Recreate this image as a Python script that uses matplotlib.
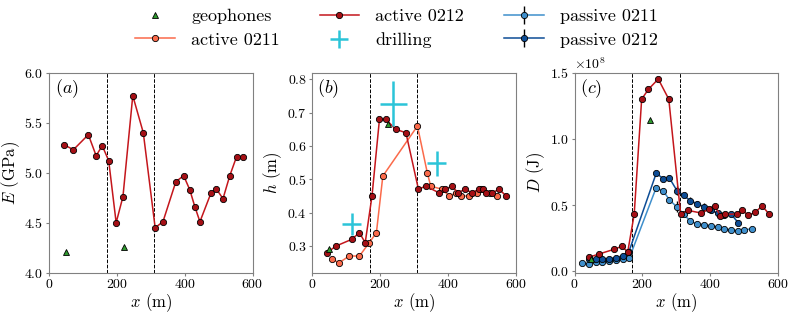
import numpy as np
import matplotlib
matplotlib.use('Agg')
import matplotlib.pyplot as plt

plt.rcParams['font.family'] = 'serif'
plt.rcParams['font.serif'] = ['cmr10']
plt.rcParams['mathtext.fontset'] = 'cm'
plt.rcParams['axes.formatter.use_mathtext'] = True
plt.rcParams['axes.unicode_minus'] = False

# geophone positions
geo_x = [50, 222]
geo_E = [4.21, 4.26]
geo_h = [0.29, 0.667]
geo_D = [0.09e8, 1.14e8]

# active 0212 (panels a and c)
act12_x = [44, 72, 116, 139, 157, 176, 198, 218, 247, 278, 313, 336, 374, 397,
           415, 430, 445, 478, 493, 513, 533, 553, 573]
act12_E = [5.28, 5.23, 5.38, 5.17, 5.27, 5.12, 4.50, 4.76, 5.77, 5.40, 4.45, 4.51,
           4.91, 4.97, 4.83, 4.66, 4.51, 4.80, 4.84, 4.74, 4.97, 5.16, 5.16]
act12_D = [0.108, 0.131, 0.166, 0.189, 0.148, 0.43, 1.30, 1.375, 1.452, 1.30, 0.432,
           0.46, 0.44, 0.47, 0.495, 0.415, 0.432, 0.432, 0.462, 0.425, 0.445, 0.495, 0.435]

# active 0212 thickness (panel b)
act12_hx = [43, 70, 116, 139, 156, 176, 198, 217, 246, 276, 313, 334, 373, 392,
            412, 429, 450, 471, 491, 504, 513, 530, 551, 572]
act12_h = [0.28, 0.30, 0.32, 0.34, 0.31, 0.45, 0.68, 0.68, 0.65, 0.64, 0.47, 0.48,
           0.46, 0.47, 0.48, 0.46, 0.47, 0.46, 0.47, 0.47, 0.46, 0.46, 0.47, 0.45]

# active 0211 thickness (panel b)
act11_x = [58, 79, 109, 139, 168, 189, 208, 310, 339, 349, 383, 404, 424, 439,
           463, 485, 498, 524, 544]
act11_h = [0.26, 0.25, 0.27, 0.27, 0.31, 0.34, 0.51, 0.66, 0.52, 0.48, 0.47, 0.45,
           0.46, 0.45, 0.45, 0.46, 0.47, 0.46, 0.45]

# drilling
drill_x = [116, 239, 367]
drill_h = [0.366, 0.727, 0.548]
drill_xerr = [29, 39, 28]
drill_herr = [0.033, 0.068, 0.037]

# passive 0211 (panel c)
pas11_x = [21, 42, 62, 82, 101, 121, 142, 162, 241, 262, 280, 301, 322, 342, 362,
           382, 402, 422, 442, 461, 481, 501, 522]
pas11_D = [0.063, 0.058, 0.071, 0.073, 0.075, 0.083, 0.093, 0.103, 0.633, 0.606,
           0.54, 0.488, 0.432, 0.377, 0.36, 0.352, 0.344, 0.334, 0.319, 0.312,
           0.307, 0.312, 0.322]
pas11_err = [0.005, 0.005, 0.005, 0.005, 0.005, 0.005, 0.005, 0.005, 0.01, 0.01,
             0.01, 0.04, 0.01, 0.01, 0.01, 0.01, 0.01, 0.01, 0.01, 0.01, 0.01, 0.01, 0.01]

# passive 0212 (panel c)
pas12_x = [42, 62, 82, 101, 121, 142, 160, 241, 262, 280, 302, 322, 341, 362, 383,
           402, 422, 442, 462, 482]
pas12_D = [0.09, 0.096, 0.096, 0.096, 0.103, 0.118, 0.146, 0.741, 0.699, 0.704,
           0.61, 0.573, 0.535, 0.51, 0.488, 0.465, 0.437, 0.422, 0.432, 0.369]
pas12_err = [0.005, 0.005, 0.005, 0.005, 0.005, 0.005, 0.01, 0.01, 0.01, 0.01,
             0.035, 0.015, 0.03, 0.025, 0.025, 0.025, 0.02, 0.02, 0.015, 0.01]

bounds = [170, 310]

c_act11 = '#fb6a4a'
c_act12 = '#c4161c'
c_pas11 = '#3f8fcc'
c_pas12 = '#0d4d96'
c_geo = '#2e9a2e'
c_drill = '#2bc4d8'
c_spine = '#808080'

mk = dict(marker='o', markersize=4.5, markeredgecolor='k', markeredgewidth=0.6, lw=1.1)
gk = dict(marker='^', markersize=5, markeredgecolor='k', markeredgewidth=0.6,
          linestyle='none', color=c_geo)

fig = plt.figure(figsize=(7.93, 3.18), dpi=100)
lefts = [49, 312.3, 574.5]
axes = [fig.add_axes([l / 793, 1 - 272.7 / 318, 203.5 / 793, 200 / 318]) for l in lefts]

for ax in axes:
    for b in bounds:
        ax.axvline(b, color='k', ls='--', lw=0.7, zorder=1)
    ax.set_xlim(0, 600)
    ax.set_xticks([0, 200, 400, 600])
    ax.set_xlabel(r'$x$ (m)', fontsize=12, labelpad=0)
    for s in ax.spines.values():
        s.set_color(c_spine)
    ax.tick_params(labelsize=10, color=c_spine, length=2.5, pad=1.5)

# (a)
ax = axes[0]
ax.plot(geo_x, geo_E, **gk)
ax.plot(act12_x, act12_E, color=c_act12, markerfacecolor='#a50f15', **mk)
ax.set_ylim(4.0, 6.0)
ax.set_ylabel(r'$E$ (GPa)', fontsize=12, labelpad=2)
ax.text(0.03, 0.975, r'$(a)$', transform=ax.transAxes, fontsize=13, va='top')

# (b)
ax = axes[1]
h_geo, = ax.plot(geo_x, geo_h, zorder=4, **gk)
h_a11, = ax.plot(act11_x, act11_h, color=c_act11, markerfacecolor=c_act11, zorder=2, **mk)
h_a12, = ax.plot(act12_hx, act12_h, color=c_act12, markerfacecolor='#a50f15', zorder=3, **mk)
h_dr = ax.errorbar(drill_x, drill_h, xerr=drill_xerr, yerr=drill_herr, fmt='none',
                   ecolor=c_drill, elinewidth=1.8, capsize=0, zorder=5)
ax.set_ylim(0.22, 0.82)
ax.set_ylabel(r'$h$ (m)', fontsize=12, labelpad=2)
ax.text(0.025, 0.975, r'$(b)$', transform=ax.transAxes, fontsize=13, va='top')

# (c)
ax = axes[2]
ax.plot(act12_x, np.array(act12_D) * 1e8, color=c_act12, markerfacecolor='#a50f15',
        zorder=3, **mk)
h_p11 = ax.errorbar(pas11_x, np.array(pas11_D) * 1e8, yerr=np.array(pas11_err) * 1e8,
                    color=c_pas11, markerfacecolor=c_pas11, ecolor='k', elinewidth=1,
                    zorder=2, **mk)
h_p12 = ax.errorbar(pas12_x, np.array(pas12_D) * 1e8, yerr=np.array(pas12_err) * 1e8,
                    color=c_pas12, markerfacecolor=c_pas12, ecolor='k', elinewidth=1,
                    zorder=2, **mk)
ax.plot(geo_x, geo_D, zorder=4, **gk)
ax.set_ylim(-0.01e8, 1.5e8)
ax.set_yticks([0, 0.5e8, 1.0e8, 1.5e8])
ax.ticklabel_format(axis='y', style='sci', scilimits=(0, 0))
ax.yaxis.get_offset_text().set_fontsize(10)
ax.set_ylabel(r'$D$ (J)', fontsize=12, labelpad=2)
ax.text(0.025, 0.975, r'$(c)$', transform=ax.transAxes, fontsize=13, va='top')

fig.legend([h_geo, h_a11, h_a12, h_dr, h_p11, h_p12],
           ['geophones', 'active 0211', 'active 0212', 'drilling', 'passive 0211', 'passive 0212'],
           loc='upper center', bbox_to_anchor=(0.5, 1.025), ncol=3, frameon=False,
           fontsize=13, columnspacing=2.2, handlelength=2.2, handletextpad=0.9,
           labelspacing=0.45)

fig.savefig('out.png', dpi=100)
